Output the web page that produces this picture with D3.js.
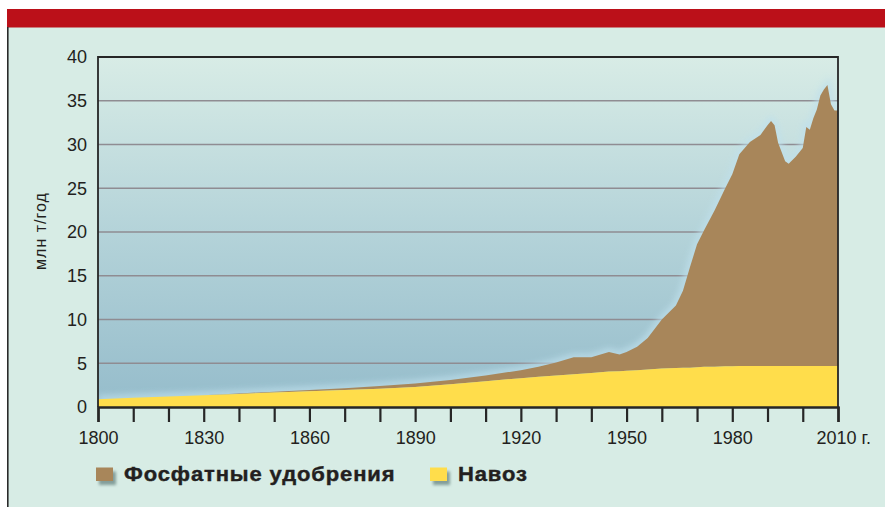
<!DOCTYPE html>
<html>
<head>
<meta charset="utf-8">
<script src="https://cdn.jsdelivr.net/npm/d3@7"></script>
<style>
  body { margin: 0; background: #fff; }
  svg text { font-family: "Liberation Sans", Arial, Helvetica, sans-serif; fill: #231f20; }
</style>
</head>
<body>
<div id="chart"></div>
<script>
// годы и значения (млн т/год)
const years = [1800, 1810, 1820, 1830, 1840, 1850, 1860, 1870, 1880, 1890, 1900, 1910,
  1920, 1925, 1930, 1935, 1940, 1945, 1948, 1950, 1953, 1956, 1960, 1964, 1966, 1968,
  1970, 1972, 1975, 1978, 1980, 1982, 1985, 1988, 1990, 1991, 1992, 1993, 1995, 1996,
  1998, 2000, 2001, 2002, 2003, 2004, 2005, 2006, 2007, 2008, 2009, 2010];
const manure = [0.9, 1.05, 1.2, 1.35, 1.5, 1.65, 1.8, 1.95, 2.1, 2.3, 2.6, 2.95,
  3.3, 3.45, 3.6, 3.75, 3.9, 4.05, 4.1, 4.15, 4.2, 4.3, 4.4, 4.45, 4.5, 4.5,
  4.55, 4.6, 4.6, 4.65, 4.65, 4.7, 4.7, 4.7, 4.7, 4.7, 4.7, 4.7, 4.7, 4.7,
  4.7, 4.7, 4.7, 4.7, 4.7, 4.7, 4.7, 4.7, 4.7, 4.7, 4.7, 4.7];
const phosphate = [0, 0, 0, 0, 0.05, 0.1, 0.15, 0.2, 0.3, 0.4, 0.5, 0.65,
  0.9, 1.15, 1.5, 1.95, 1.8, 2.25, 1.9, 2.15, 2.7, 3.6, 5.6, 7.15, 8.8, 11.5,
  14.05, 15.6, 17.9, 20.35, 21.95, 24.2, 25.6, 26.4, 27.5, 28.0, 27.5, 25.5, 23.4, 23.1,
  23.9, 24.9, 27.3, 27.0, 28.3, 29.3, 30.9, 31.6, 32.1, 29.9, 29.2, 29.2];
const yTicks = [0, 5, 10, 15, 20, 25, 30, 35, 40];
const xTicks = d3.range(1800, 2011, 10);
const xLabels = [1800, 1830, 1860, 1890, 1920, 1950, 1980, 2010];
const seriesNames = ['Фосфатные удобрения', 'Навоз'];

const width = 885, height = 507;
const brown = '#a8865a', yellow = '#ffdd4b';

const svg = d3.select('#chart').append('svg')
  .attr('width', width)
  .attr('height', height);

const defs = svg.append('defs');
const grad = defs.append('linearGradient')
  .attr('id', 'bg')
  .attr('x1', 0).attr('y1', 0).attr('x2', 0).attr('y2', 1);
grad.append('stop').attr('offset', '0%').attr('stop-color', '#d8ece6');
grad.append('stop').attr('offset', '50%').attr('stop-color', '#b4d3d9');
grad.append('stop').attr('offset', '100%').attr('stop-color', '#95bccb');

defs.append('filter').attr('id', 'glow')
  .attr('x', '-5%').attr('y', '-5%').attr('width', '110%').attr('height', '110%')
  .append('feGaussianBlur').attr('stdDeviation', 3);

const shadow = defs.append('filter').attr('id', 'shadow')
  .attr('x', '-50%').attr('y', '-50%').attr('width', '200%').attr('height', '200%');
shadow.append('feDropShadow')
  .attr('dx', 3).attr('dy', 4).attr('stdDeviation', 1.5)
  .attr('flood-color', '#6e8a86').attr('flood-opacity', 0.8);

// фон и рамка
svg.append('rect')
  .attr('x', 7).attr('y', 9).attr('width', width - 7).attr('height', height - 9)
  .attr('fill', '#d7ece5');
svg.append('rect')
  .attr('x', 7).attr('y', 9).attr('width', width - 7).attr('height', 18.5)
  .attr('fill', '#bb1019');
svg.append('line')
  .attr('x1', 7.8).attr('x2', 7.8).attr('y1', 27).attr('y2', height)
  .attr('stroke', '#2a2a2a').attr('stroke-width', 1.6);

// шкалы
const x = d3.scaleLinear().domain([1800, 2010]).range([98, 838]);
const y = d3.scaleLinear().domain([0, 40]).range([407, 57]);

svg.append('rect')
  .attr('x', x(1800)).attr('y', y(40))
  .attr('width', x(2010) - x(1800)).attr('height', y(0) - y(40))
  .attr('fill', 'url(#bg)');

// сетка
svg.append('g')
  .selectAll('line')
  .data(yTicks.filter(d => d > 0 && d < 40))
  .join('line')
  .attr('x1', x(1800)).attr('x2', x(2010))
  .attr('y1', d => y(d)).attr('y2', d => y(d))
  .attr('stroke', '#8f8c92')
  .attr('stroke-width', 1.6);

// данные
const data = years.map((yr, i) => ({ year: yr, manure: manure[i], phosphate: phosphate[i] }));
const stacked = d3.stack().keys(['manure', 'phosphate'])(data);

const area = d3.area()
  .x(d => x(d.data.year))
  .y0(d => y(d[0]))
  .y1(d => y(d[1]));
const topLine = d3.line()
  .x(d => x(d.data.year))
  .y(d => y(d[1]));

svg.append('clipPath').attr('id', 'plot')
  .append('rect')
  .attr('x', x(1800)).attr('y', y(40))
  .attr('width', x(2010) - x(1800)).attr('height', y(0) - y(40));

const plot = svg.append('g').attr('clip-path', 'url(#plot)');

// светлый ореол вокруг коричневой области
plot.append('path')
  .datum(stacked[1])
  .attr('d', topLine)
  .attr('fill', 'none')
  .attr('stroke', '#bfe0ec')
  .attr('stroke-width', 7)
  .attr('opacity', 0.8)
  .attr('filter', 'url(#glow)');

plot.append('path')
  .datum(stacked[1])
  .attr('d', area)
  .attr('fill', brown);

plot.append('path')
  .datum(stacked[0])
  .attr('d', area)
  .attr('fill', yellow);

// рамка графика
svg.append('path')
  .attr('d', `M${x(1800)},${y(0)}V${y(40)}H${x(2010)}V${y(0)}`)
  .attr('fill', 'none')
  .attr('stroke', '#262626')
  .attr('stroke-width', 1.8);

// ось X
const xAxis = d3.axisBottom(x)
  .tickValues(xTicks)
  .tickSize(15)
  .tickPadding(9)
  .tickFormat(d => xLabels.includes(d) ? d : '');

const gx = svg.append('g')
  .attr('transform', `translate(0, ${y(0)})`)
  .call(xAxis);
gx.select('.domain').attr('stroke', '#262626').attr('stroke-width', 2.4);
gx.selectAll('.tick line').attr('stroke', '#262626').attr('stroke-width', 2.2);
gx.selectAll('.tick text')
  .attr('font-size', 18)
  .attr('fill', '#231f20');
gx.selectAll('.tick text')
  .filter(d => d === 2010)
  .text('2010 г.')
  .attr('text-anchor', 'start')
  .attr('x', -22);

// ось Y
const yAxis = d3.axisLeft(y)
  .tickValues(yTicks)
  .tickSize(0)
  .tickPadding(11);
const gy = svg.append('g')
  .attr('transform', `translate(${x(1800)}, 0)`)
  .call(yAxis);
gy.select('.domain').remove();
gy.selectAll('.tick text')
  .attr('font-size', 18)
  .attr('fill', '#231f20');

svg.append('text')
  .attr('transform', `translate(46, 231) rotate(-90)`)
  .attr('text-anchor', 'middle')
  .attr('font-size', 16)
  .attr('letter-spacing', 1)
  .text('млн т/год');

// легенда
const legend = svg.append('g');
const legendItems = [
  { name: seriesNames[0], color: brown, x: 96 },
  { name: seriesNames[1], color: yellow, x: 430 }
];
legendItems.forEach(item => {
  legend.append('rect')
    .attr('x', item.x).attr('y', 467.5)
    .attr('width', 17).attr('height', 13.5)
    .attr('fill', item.color)
    .attr('filter', 'url(#shadow)');
  legend.append('text')
    .attr('transform', `translate(${item.x + 28}, 481) scale(1.1, 1)`)
    .attr('font-size', 20)
    .attr('font-weight', 'bold')
    .attr('letter-spacing', 0.8)
    .attr('stroke', '#231f20')
    .attr('stroke-width', 0.4)
    .text(item.name);
});
</script>
</body>
</html>
